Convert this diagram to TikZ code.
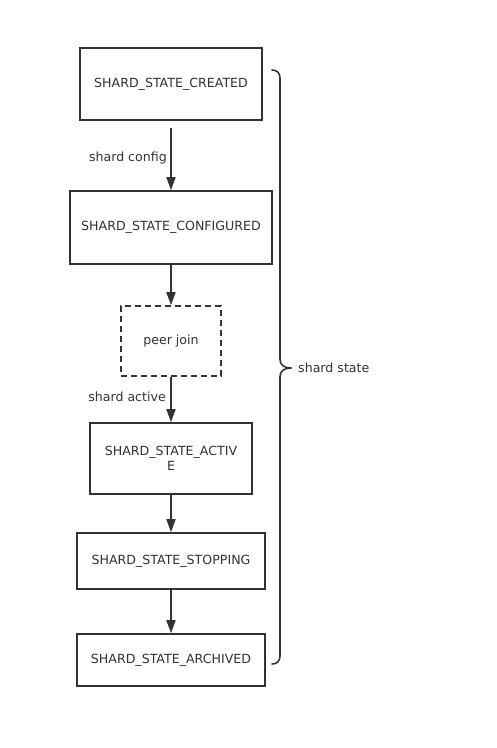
\documentclass[tikz,border=0pt]{standalone}
\usepackage{fontspec}
\setmainfont{DejaVu Sans}
\usetikzlibrary{arrows.meta}
\definecolor{ink}{HTML}{333333}
\begin{document}
\begin{tikzpicture}[x=1pt,y=-1pt,
  state/.style={draw=ink, line width=1.6pt, fill=white, text=ink, font=\fontsize{12.6}{15.5}\selectfont, inner sep=0pt, align=center},
  lbl/.style={text=ink, font=\fontsize{12.6}{15.5}\selectfont, inner sep=0pt},
  flow/.style={draw=ink, line width=1.6pt, -{Triangle[length=13pt,width=9pt]}},
  brace/.style={draw=ink, line width=1.6pt, line cap=round}]
\useasboundingbox (0,0) rectangle (497,748);
\fill[white] (0,0) rectangle (497,748);

\node[state, minimum width=182pt, minimum height=72pt] (created) at (171,84) {SHARD\_STATE\_CREATED};
\node[state, minimum width=202pt, minimum height=73pt] (configured) at (171,227.5) {SHARD\_STATE\_CONFIGURED};
\node[state, dashed, dash pattern=on 6pt off 4pt, minimum width=100pt, minimum height=70pt] (peer) at (171,341) {peer join};
\node[state, minimum width=162pt, minimum height=71pt] (active) at (171,458.5) {SHARD\_STATE\_ACTIV\\E};
\node[state, minimum width=188pt, minimum height=56pt] (stopping) at (171,561) {SHARD\_STATE\_STOPPING};
\node[state, minimum width=188pt, minimum height=52pt] (archived) at (171,660) {SHARD\_STATE\_ARCHIVED};

\coordinate (start1) at (171,128);
\draw[flow] (start1) -- (configured.north);
\draw[flow] (configured.south) -- (peer.north);
\draw[flow] (peer.south) -- (active.north);
\draw[flow] (active.south) -- (stopping.north);
\draw[flow] (stopping.south) -- (archived.north);

\node[lbl, anchor=east] (lconfig) at (167,158) {shard config};
\node[lbl, anchor=east] (lactive) at (166,397) {shard active};

\draw[brace] (272,70) .. controls (277,70) and (280,73) .. (280,78)
  -- (280,359) .. controls (280,365) and (284,368) .. (291,368);
\draw[brace] (291,368) .. controls (284,368) and (280,371) .. (280,377)
  -- (280,656) .. controls (280,661) and (277,664) .. (272,664);
\node[lbl, anchor=west] (lstate) at (298,368) {shard state};
\end{tikzpicture}
\end{document}
